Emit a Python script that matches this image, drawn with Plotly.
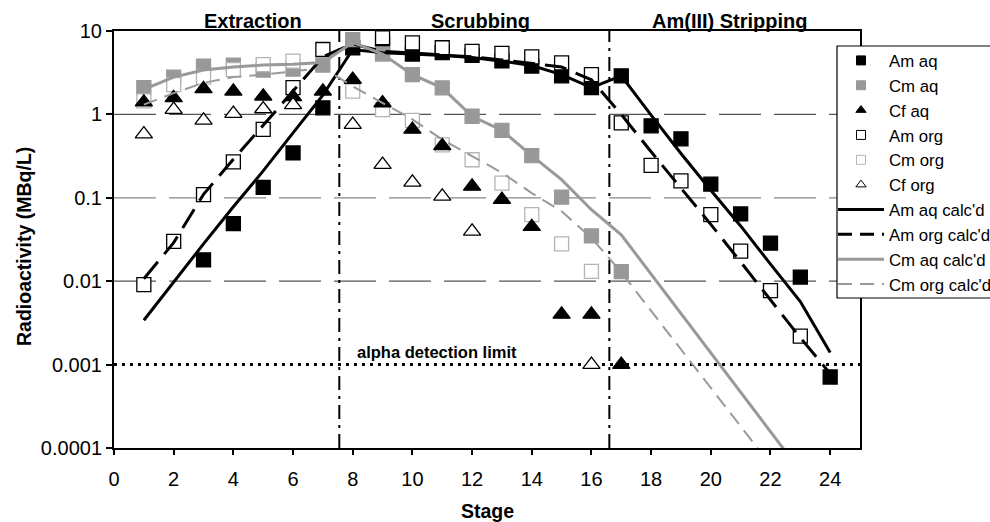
import plotly.graph_objects as go
import math

stages = list(range(1, 25))

# ---- measured data (None = not shown) ----
am_aq = [None, None, 0.018, 0.049, 0.133, 0.345, 1.2, 6.3, 7.0, 5.3, 5.5, 5.1, 4.4, 3.8,
         2.9, 2.1, 2.9, 0.73, 0.51, 0.146, 0.064, 0.0286, 0.0112, 0.00071]
cm_aq = [2.1, 2.8, 3.8, 3.9, 3.4, 3.5, 3.9, 7.9, 5.3, 3.0, 2.08, 0.95, 0.645, 0.32,
         0.102, 0.035, 0.013, None, None, None, None, None, None, None]
cf_aq = [1.40, 1.58, 2.02, 1.89, 1.65, 1.62, 1.89, 2.62, 1.37, 0.66, 0.42, 0.137, 0.095, 0.045,
         0.004, 0.004, 0.001, None, None, None, None, None, None, None]
am_org = [0.0091, 0.030, 0.109, 0.27, 0.66, 2.1, 6.0, None, 8.3, 7.2, 6.3, 5.7, 5.4, 4.9,
          4.15, 3.0, 0.79, 0.245, 0.16, 0.063, 0.023, 0.0077, 0.0022, None]
cm_org = [1.45, 2.28, 2.8, 3.45, 3.96, 4.35, None, 1.9, 1.14, 0.85, 0.43, 0.286, 0.15, 0.063,
          0.028, 0.0131, None, None, None, None, None, None, None, None]
cf_org = [0.58, 1.14, 0.85, 1.02, 1.16, 1.3, None, 0.755, 0.25, 0.153, 0.104, 0.0395, None, None,
          None, 0.001, None, None, None, None, None, None, None, None]

# ---- calculated curves ----
am_aq_calc = [0.0034, 0.0098, 0.028, 0.078, 0.21, 0.6, 1.7, 6.0, 5.5, 5.3, 5.1, 4.8, 4.35, 3.86,
              3.0, 2.1, 2.9, 0.98, 0.34, 0.123, 0.046, 0.016, 0.0057, 0.0014]
am_org_calc = [0.0107, 0.029, 0.11, 0.29, 0.74, 1.9, 4.9, 7.0, 5.7, 5.45, 5.2, 4.9, 4.5, 4.1,
               3.7, 2.6, 1.0, 0.356, 0.131, 0.048, 0.017, 0.006, 0.0021, 0.00078]
cm_aq_calc = [2.0, 2.8, 3.4, 3.7, 3.9, 4.0, 4.2, 7.3, 5.3, 3.0, 2.08, 0.95, 0.645, 0.32,
              0.165, 0.072, 0.036, 0.0122, 0.0041, 0.00138, 0.00047, 0.000157, 0.000053, None]
cm_org_calc = [1.31, 1.8, 2.39, 2.8, 3.0, 3.3, 3.6, 2.17, 1.37, 0.87, 0.5, 0.315, 0.2, 0.114,
               0.069, 0.033, 0.0128, 0.0044, 0.00151, 0.00052, 0.000183, 0.000063, None, None]

ytick_vals = [0.0001, 0.001, 0.01, 0.1, 1, 10]
ytick_text = ["0.0001", "0.001", "0.01", "0.1", "1", "10"]
xtick_vals = list(range(0, 25, 2))
detection_limit = 0.001
section_bounds = [7.55, 16.6]
sections = [("Extraction", 4.66), ("Scrubbing", 12.28), ("Am(III) Stripping", 20.65)]

FONT = "Liberation Sans, Arial, sans-serif"
GRAY = "#999999"
LGRAY = "#b4b4b4"

fig = go.Figure()

marker_series = {
    "Am aq": (am_aq, "square", "black", "black"),
    "Cm aq": (cm_aq, "square", GRAY, GRAY),
    "Cf aq": (cf_aq, "triangle-up", "black", "black"),
    "Am org": (am_org, "square", "white", "black"),
    "Cm org": (cm_org, "square", "white", LGRAY),
    "Cf org": (cf_org, "triangle-up", "white", "black"),
}
legend_order = ["Am aq", "Cm aq", "Cf aq", "Am org", "Cm org", "Cf org"]
draw_order = ["Am aq", "Am org", "Cm aq", "Cm org", "Cf aq", "Cf org"]

for name in draw_order:
    vals, sym, fill, edge = marker_series[name]
    size = 14 if sym == "square" else 15
    fig.add_trace(go.Scatter(
        x=stages, y=vals, mode="markers", name=name, showlegend=False,
        marker=dict(symbol=sym, size=size, color=fill, line=dict(color=edge, width=1.3)),
        cliponaxis=False))

line_series = [
    ("Am aq calc'd", am_aq_calc, "black", 3, "solid"),
    ("Am org calc'd", am_org_calc, "black", 3, "22px,10px"),
    ("Cm aq calc'd", cm_aq_calc, GRAY, 3, "solid"),
    ("Cm org calc'd", cm_org_calc, GRAY, 2, "14px,8px"),
]
for name, vals, col, w, dash in line_series:
    fig.add_trace(go.Scatter(
        x=stages, y=vals, mode="lines", name=name, showlegend=False,
        line=dict(color=col, width=w, dash=dash), connectgaps=False))

# legend-only entries
for name in legend_order:
    vals, sym, fill, edge = marker_series[name]
    fig.add_trace(go.Scatter(
        x=[None], y=[None], mode="markers", name=name,
        marker=dict(symbol=sym, size=9, color=fill, line=dict(color=edge, width=1))))
for name, vals, col, w, dash in line_series:
    fig.add_trace(go.Scatter(
        x=[None], y=[None], mode="lines", name=name,
        line=dict(color=col, width=w, dash=("14px,8px" if dash != "solid" else "solid"))))

shapes = []
# horizontal dashed gridlines
for v, c in [(1, "#555555"), (0.1, "#888888"), (0.01, "#555555")]:
    shapes.append(dict(type="line", xref="paper", yref="y", x0=0, x1=1, y0=v, y1=v,
                       line=dict(color=c, width=1.3, dash="42px,13px"), layer="below"))
# detection limit
shapes.append(dict(type="line", xref="paper", yref="y", x0=0, x1=1,
                   y0=detection_limit, y1=detection_limit,
                   line=dict(color="black", width=3, dash="3px,5px"), layer="below"))
# section boundaries
for xb in section_bounds:
    shapes.append(dict(type="line", xref="x", yref="paper", x0=xb, x1=xb, y0=0, y1=1,
                       line=dict(color="black", width=2, dash="14px,6px,3px,6px"), layer="below"))
# legend box
L, R, T, B = 114, 130, 31, 74
PW, PH = 990 - L - R, 522 - T - B
lx0 = (837 - L) / PW
ly1 = (522 - B - 46) / PH
ly0 = (522 - B - 298) / PH
shapes.append(dict(type="rect", xref="paper", yref="paper", x0=lx0, x1=1.3, y0=ly0, y1=ly1,
                   fillcolor="white", line=dict(color="black", width=1.2), layer="above"))

annotations = []
for label, xc in sections:
    annotations.append(dict(text=f"<b>{label}</b>", x=xc, xref="x", y=(522 - B - 21) / PH, yref="paper",
                            showarrow=False, xanchor="center", yanchor="middle",
                            font=dict(family=FONT, size=20, color="black")))
annotations.append(dict(text="<b>alpha detection limit</b>", x=10.81, xref="x",
                        y=math.log10(detection_limit) + 0.15, yref="y", showarrow=False,
                        xanchor="center", yanchor="middle",
                        font=dict(family=FONT, size=16.5, color="black")))
annotations.append(dict(text="<b>Stage</b>", x=0.5, xref="paper", y=(522 - B - 511) / PH, yref="paper",
                        showarrow=False, xanchor="center", yanchor="middle",
                        font=dict(family=FONT, size=19.5, color="black")))
annotations.append(dict(text="<b>Radioactivity (MBq/L)</b>", x=(24 - L) / PW, xref="paper",
                        y=(522 - B - 247) / PH, yref="paper", textangle=-90, showarrow=False,
                        xanchor="center", yanchor="middle",
                        font=dict(family=FONT, size=19.5, color="black")))

fig.update_layout(
    width=990, height=522,
    margin=dict(l=L, r=R, t=T, b=B, autoexpand=False),
    paper_bgcolor="white", plot_bgcolor="white",
    font=dict(family=FONT, size=17, color="black"),
    xaxis=dict(range=[0, 25], tickvals=xtick_vals, showgrid=False, zeroline=False,
               showline=True, linecolor="black", linewidth=2, mirror=True,
               ticks="outside", ticklen=5, tickwidth=1.5, tickcolor="black",
               ticklabelstandoff=7,
               tickfont=dict(family=FONT, size=20)),
    yaxis=dict(type="log", range=[-4, 1], tickvals=ytick_vals, ticktext=ytick_text,
               showgrid=False, zeroline=False, showline=True, linecolor="black", linewidth=2,
               mirror=True, ticks="outside", ticklen=6, tickwidth=1.5, tickcolor="black",
               tickfont=dict(family=FONT, size=20)),
    legend=dict(x=lx0 - 4 / PW, y=ly1 + 3 / PH, xanchor="left", yanchor="top",
                bgcolor="rgba(0,0,0,0)", borderwidth=0, itemwidth=46,
                font=dict(family=FONT, size=16.8, color="black"), tracegroupgap=0),
    shapes=shapes, annotations=annotations,
)

fig.write_html("out.html")
